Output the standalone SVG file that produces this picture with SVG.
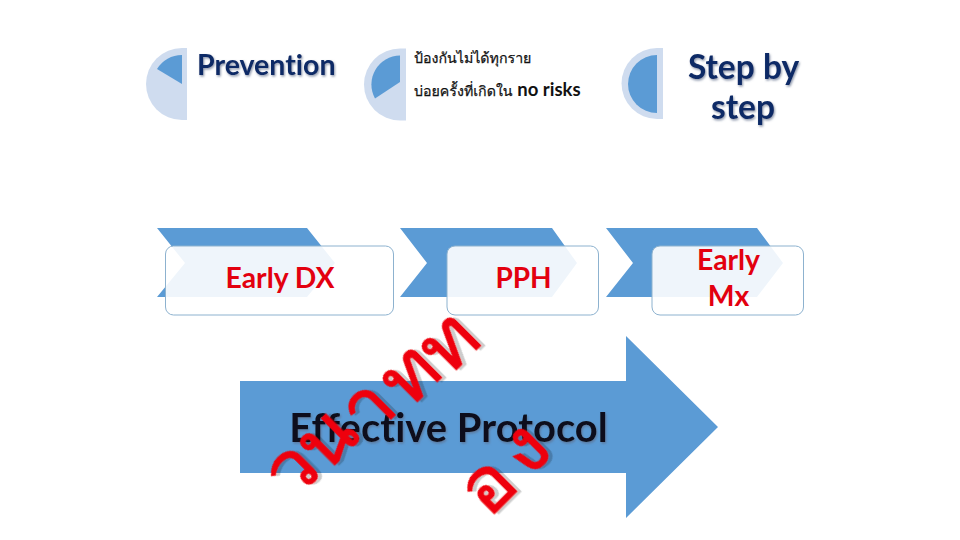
<svg xmlns="http://www.w3.org/2000/svg" width="960" height="540" viewBox="0 0 960 540">
<style>
text{font-variant-ligatures:none}
.bg{fill:#cfdcef}.fg{fill:#5b9bd5}
.chev{fill:#5b9bd5}
.box{fill:#fff;fill-opacity:.9;stroke:#8db2cf;stroke-width:1}
.t{font-family:"Lato","Liberation Sans",sans-serif;font-weight:700}
.navy{fill:#0c2a66;filter:url(#sh)}
.red{fill:#e3000f;text-anchor:middle}
.big{fill:#ee0009;stroke:#ee0009;stroke-width:1.200;font-family:"Tahoma","Loma","Garuda","Norasi","Tlwg Typo","Noto Serif Thai","Liberation Serif",serif;font-size:78px;text-anchor:middle;filter:url(#sh2)}
.th{font-family:"Tahoma","Loma","Garuda","Norasi","Noto Serif Thai","Liberation Serif",serif;font-size:14.200px;fill:#111;stroke:#111;stroke-width:.25}
</style>
<defs>
<filter id="sh" x="-10%" y="-20%" width="120%" height="150%"><feDropShadow dx="1" dy="1.500" stdDeviation=".8" flood-color="#5b6b88" flood-opacity=".7"/></filter>
<filter id="sh2" x="-50%" y="-50%" width="200%" height="200%"><feDropShadow dx="3" dy="3" stdDeviation="0" flood-color="#000" flood-opacity=".2"/></filter>
</defs>
<g id="pie1"><path class="bg" d="M187 48H182A36 36 0 0 0 182 120H187Z"/><path class="fg" d="M182 55A29 29 0 0 0 157 69L182 84Z"/></g>
<g id="pie2"><path class="bg" d="M406 48.500H400A36 36 0 0 0 400 120.500H406Z"/><path class="fg" d="M400 55.500A29 29 0 0 0 375 98.500L400 82Z"/></g>
<g id="pie3"><path class="bg" d="M663 48H657A35.500 35.500 0 0 0 657 119H663Z"/><path class="fg" d="M657 55A29 29 0 0 0 657 113Z"/></g>
<g id="label-prevention"><text class="t navy" x="197" y="75" font-size="28.500">Prevention</text></g>
<g id="label-thai"><text class="th" x="414" y="63">ป้องกันไม่ได้ทุกราย</text><text class="th" x="414" y="96">บ่อยครั้งที่เกิดใน <tspan class="t" font-size="18.500" stroke="none">no risks</tspan></text></g>
<g id="label-step"><text class="t navy" x="743.500" y="79" font-size="33.500" text-anchor="middle">Step by</text><text class="t navy" x="743" y="119" font-size="33.500" text-anchor="middle">step</text></g>
<g id="chevrons">
<path class="chev" d="M157 228H307L335 263L307 297H157L185 263Z"/>
<path class="chev" d="M400 228H552L577 263L552 297H400L427 263Z"/>
<path class="chev" d="M606 228H757L783 263L757 297H606L633 263Z"/>
</g>
<g id="node-early-dx"><rect class="box" x="165.500" y="246" width="228" height="69" rx="8"/><text class="t red" x="280" y="288" font-size="28.300">Early DX</text></g>
<g id="node-pph"><rect class="box" x="447" y="246" width="151.500" height="69" rx="8"/><text class="t red" x="523.500" y="288" font-size="28">PPH</text></g>
<g id="node-early-mx"><rect class="box" x="652" y="246" width="151.500" height="69" rx="8"/><text class="t red" x="728.500" y="270" font-size="28.300">Early</text><text class="t red" x="728.500" y="306" font-size="28.300">Mx</text></g>
<g id="arrow"><path class="fg" d="M240 381H626V336L718 427L626 518V473H240Z"/><text class="t" x="448.500" y="442" font-size="40" text-anchor="middle" fill="#0b0f1a" filter="url(#sh)">Effective Protocol</text></g>
<g id="thai-wordart">
<text class="big" transform="translate(290 468) rotate(-45)" y="27">ว</text>
<text class="big" transform="translate(325 437) rotate(-45)" y="27">น</text>
<text class="big" transform="translate(366 406) rotate(-45)" y="27">า</text>
<text class="big" transform="translate(408 373) rotate(-45)" y="27">ท</text>
<text class="big" transform="translate(447 341) rotate(-45)" y="27">ท</text>
<text class="big" transform="translate(486 484) rotate(-45)" y="27">อ</text>
<text class="big" transform="translate(523 447) rotate(-45)" y="27">ง</text>
</g>
</svg>
